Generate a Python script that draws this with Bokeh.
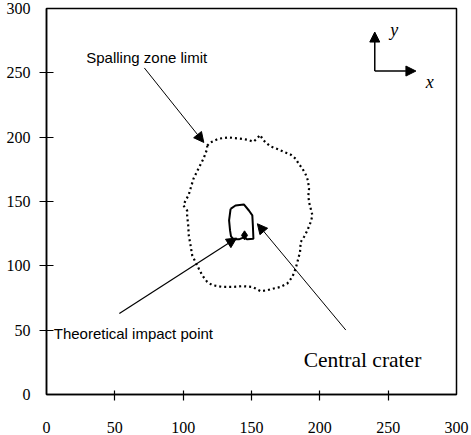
from bokeh.plotting import figure
from bokeh.models import Range1d, FixedTicker, Arrow, NormalHead
from bokeh.core.properties import value
from bokeh.embed import file_html
from bokeh.resources import INLINE

# ---- data ----
tick_values = [0, 50, 100, 150, 200, 250, 300]
inner_ticks = [50, 100, 150, 200, 250]

spall_x = [117.6, 120.0, 125.9, 133.2, 140.5, 146.9, 151.5, 154.3, 156.3, 158.1,
           160.3, 164.0, 168.9, 173.5, 178.7, 182.3, 184.5, 187.2, 189.7, 191.3,
           192.1, 191.6, 192.1, 193.3, 194.6, 193.3, 190.9, 188.4, 186.0, 185.5,
           183.6, 182.3, 179.9, 176.2, 171.3, 166.2, 161.6, 156.7, 153.0, 150.6,
           143.3, 135.9, 128.6, 121.3, 117.6, 113.9, 111.4, 109.0, 106.6, 105.4,
           104.1, 103.7, 102.9, 102.9, 100.2, 101.7, 103.9, 105.4, 107.6, 111.2,
           114.9, 117.6, 117.6]
spall_y = [193.4, 195.9, 198.8, 199.8, 199.0, 198.0, 196.5, 199.2, 201.7, 198.6,
           195.9, 192.8, 190.8, 188.7, 186.4, 183.3, 179.4, 175.6, 170.9, 166.3,
           160.1, 154.7, 149.5, 144.6, 139.2, 134.0, 127.5, 122.4, 118.5, 110.7,
           103.0, 97.9, 91.4, 86.3, 83.6, 82.4, 81.1, 80.3, 82.4, 83.6,
           84.2, 83.6, 83.6, 85.0, 87.5, 92.7, 97.9, 103.0, 108.2, 115.9,
           123.7, 131.4, 139.2, 143.0, 146.9, 150.8, 154.7, 160.1, 167.8, 175.6,
           183.3, 191.0, 193.4]

crater_x = [134.7, 138.3, 144.4, 148.1, 150.6, 151.0, 151.4, 146.9, 144.4, 140.8,
            136.9, 135.0, 134.3, 133.6, 134.7]
crater_y = [144.3, 146.9, 147.7, 143.0, 139.2, 131.4, 121.1, 120.6, 122.1, 120.6,
            120.6, 122.9, 127.5, 135.3, 144.3]

impact_x = [144.9]
impact_y = [123.7]

p = figure(width=471, height=435, frame_width=410, frame_height=386,
           x_range=Range1d(0, 300), y_range=Range1d(0, 300),
           min_border_left=46, min_border_right=15, min_border_top=8, min_border_bottom=41,
           output_backend="svg", toolbar_location=None)
p.background_fill_color = "white"
p.border_fill_color = "white"
p.xgrid.visible = False
p.ygrid.visible = False
p.outline_line_color = "black"
p.outline_line_width = 1.5

for ax in (p.xaxis[0], p.yaxis[0]):
    ax.ticker = FixedTicker(ticks=tick_values, minor_ticks=inner_ticks)
    ax.axis_line_color = "black"
    ax.axis_line_width = 1.5
    ax.major_tick_in = 0
    ax.major_tick_out = 0
    ax.minor_tick_line_color = "black"
    ax.minor_tick_line_width = 1.2
    ax.major_label_text_font = "Liberation Serif"
    ax.major_label_text_font_size = "16px"
    ax.major_label_text_color = "black"

p.xaxis[0].minor_tick_in = 4
p.xaxis[0].minor_tick_out = 6
p.xaxis[0].major_label_standoff = 21
p.yaxis[0].minor_tick_in = 7
p.yaxis[0].minor_tick_out = 7
p.yaxis[0].major_label_standoff = 9

# spalling zone limit (dotted)
p.line(spall_x, spall_y, line_color="black", line_width=2.2, line_dash="2 3")
# central crater (solid)
p.line(crater_x, crater_y, line_color="black", line_width=2)
# theoretical impact point
p.scatter(impact_x, impact_y, marker="diamond", size=9, color="black")

# annotation arrows
def arrow(x0, y0, x1, y1, lw=1.0, size=10):
    p.add_layout(Arrow(x_start=x0, y_start=y0, x_end=x1, y_end=y1,
                       line_color="black", line_width=lw,
                       end=NormalHead(size=size, fill_color="black", line_color="black", line_width=1)))

arrow(71.6, 253.8, 115.1, 195.9, 1.0, 10)
arrow(53.3, 63.0, 139.1, 121.6, 1.2, 10)
arrow(219.0, 50.1, 154.3, 132.7, 1.0, 10)
arrow(240.2, 251.4, 240.2, 281.7, 1.5, 10)
arrow(240.2, 251.4, 270.3, 251.4, 1.5, 10)

p.text(x=[29.1], y=[261.8], text=["Spalling zone limit"], text_font=value("Liberation Sans"),
       text_font_size="15px", text_baseline="alphabetic", text_align="left", text_color="black")
p.text(x=[5.3], y=[47.5], text=["Theoretical impact point"], text_font=value("Liberation Sans"),
       text_font_size="15px", text_baseline="alphabetic", text_align="left", text_color="black")
p.text(x=[188.2], y=[26.9], text=["Central crater"], text_font=value("Liberation Serif"),
       text_font_size="21.5px", text_baseline="alphabetic", text_align="left", text_color="black")
p.text(x=[251.5, 277.5], y=[283.5, 242.5], text=["y", "x"], text_font=value("Liberation Serif"),
       text_font_style="italic", text_font_size="18px", text_baseline="alphabetic",
       text_align="left", text_color="black")

open("out.html", "w").write(file_html(p, INLINE))
